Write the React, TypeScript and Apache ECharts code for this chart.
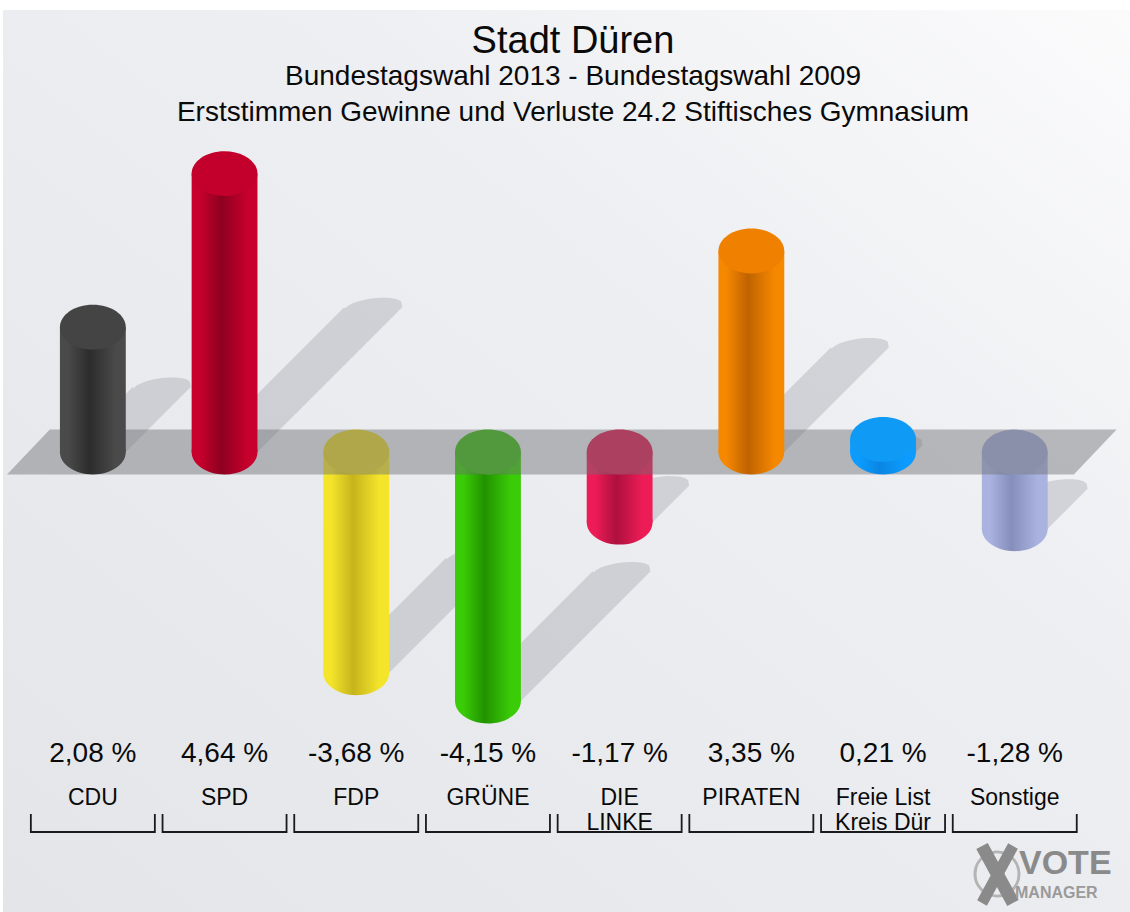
import React, { useEffect, useRef } from "react";
import * as echarts from "echarts";

// ---- data ----
const categories = ["CDU", "SPD", "FDP", "GRÜNE", "DIE\nLINKE", "PIRATEN", "Freie List\nKreis Dür", "Sonstige"];
const values = [2.08, 4.64, -3.68, -4.15, -1.17, 3.35, 0.21, -1.28];
const edgeColors = ["#4a4a4a", "#c8002c", "#f4e42a", "#3acc06", "#ee1c56", "#f68800", "#0c9cff", "#aab3df"];
const midColors = ["#2c2c2c", "#8c0020", "#c6b41c", "#229200", "#ad103f", "#bf6200", "#0a86e2", "#868fbb"];
const topColors = ["#444444", "#c2002b", "#e6d628", "#3cbb10", "#e01a50", "#f08000", "#0f9af6", "#a2abd6"];
const titleText = "Stadt Düren";
const subtitleLines = [
  "Bundestagswahl 2013 - Bundestagswahl 2009",
  "Erststimmen Gewinne und Verluste 24.2 Stiftisches Gymnasium",
];

const FONT = '"Liberation Sans", Arial, sans-serif';

function fmt(v: number) {
  return v.toFixed(2).replace(".", ",") + " %";
}

function geom(api: any) {
  const i = api.value(0);
  const v = api.value(1);
  const p0 = api.coord([i, 0]);
  const p1 = api.coord([i, v]);
  const w = api.size([1, 0])[0] * 0.5;
  return { i, v, p0, p1, w, rx: w / 2, ry: w * 0.34, cx: p0[0] };
}

function cylinderItem(api: any, positive: boolean) {
  const g = geom(api);
  if (positive ? g.v < 0 : g.v >= 0) return null;
  const yTop = Math.min(g.p0[1], g.p1[1]);
  const yLow = Math.max(g.p0[1], g.p1[1]);
  const edge = edgeColors[g.i];
  const mid = midColors[g.i];
  const grad = () =>
    new echarts.graphic.LinearGradient(0, 0, 1, 0, [
      { offset: 0, color: edge },
      { offset: 0.12, color: edge },
      { offset: 0.45, color: mid },
      { offset: 0.85, color: edge },
      { offset: 1, color: edge },
    ]);
  return {
    type: "group",
    children: [
      { type: "ellipse", shape: { cx: g.cx, cy: yLow, rx: g.rx, ry: g.ry }, style: { fill: grad() } },
      { type: "rect", shape: { x: g.cx - g.rx, y: yTop, width: g.w, height: yLow - yTop }, style: { fill: grad() } },
      { type: "ellipse", shape: { cx: g.cx, cy: yTop, rx: g.rx, ry: g.ry }, style: { fill: topColors[g.i] } },
    ],
  };
}

function shadowItem(api: any) {
  const g = geom(api);
  const h = Math.abs(g.p1[1] - g.p0[1]);
  const yLow = Math.max(g.p0[1], g.p1[1]);
  const R = 0.52 * h;
  const sw = 58;
  const xr0 = g.cx + g.rx;
  const yT = yLow - R;
  const xrT = xr0 + R;
  const xlT = xrT - sw;
  const xm = (xlT + xrT) / 2;
  const pts: number[][] = [[xr0 - sw, yLow], [xlT, yT]];
  for (let k = 1; k < 12; k++) {
    const t = Math.PI - (Math.PI * k) / 12;
    pts.push([xm + (sw / 2) * Math.cos(t), yT - 9 * Math.sin(t) - (sw / 2) * Math.cos(t) * 0.12]);
  }
  pts.push([xrT, yT]);
  pts.push([xr0, yLow]);
  return { type: "polygon", shape: { points: pts }, style: { fill: "rgba(150,152,162,0.33)" } };
}

function centeredText(text: string, x: number, y: number, font: string) {
  return {
    type: "text",
    style: { text, x, y, align: "center", verticalAlign: "middle", textAlign: "center", textVerticalAlign: "middle", font, fill: "#0a0a0a" },
  };
}

function labelItem(api: any) {
  const g = geom(api);
  const parts = categories[g.i].split("\n");
  const half = 62;
  const children: any[] = [
    centeredText(fmt(g.v), g.cx, 752, `28px ${FONT}`),
    centeredText(parts[0], g.cx, 797, `23px ${FONT}`),
    {
      type: "polyline",
      shape: { points: [[g.cx - half, 814], [g.cx - half, 832], [g.cx + half, 832], [g.cx + half, 814]] },
      style: { stroke: "#1a1a1a", lineWidth: 1.8, fill: null },
    },
  ];
  if (parts[1]) children.push(centeredText(parts[1], g.cx, 822, `23px ${FONT}`));
  return { type: "group", children };
}

export default function App() {
  const ref = useRef<HTMLDivElement>(null);
  useEffect(() => {
    if (!ref.current) return;
    const chart = echarts.init(ref.current, undefined, { renderer: "svg" });
    const data = values.map((v, i) => [i, v]);
    const txt = (text: string, y: number, size: number) => ({
      ...centeredText(text, 573, y, `${size}px ${FONT}`),
      z: 5,
    });
    chart.setOption({
      animation: false,
      grid: { left: 27, right: 49.4, top: 92, bottom: 100, containLabel: false },
      xAxis: { type: "category", data: categories, show: false },
      yAxis: { type: "value", min: -6, max: 6, show: false },
      graphic: [
        {
          type: "rect",
          z: -10,
          shape: { x: 3, y: 10, width: 1127, height: 902 },
          style: {
            fill: new echarts.graphic.LinearGradient(1, 0, 0, 1, [
              { offset: 0, color: "#fbfbfc" },
              { offset: 0.35, color: "#eeeff2" },
              { offset: 1, color: "#e3e5e9" },
            ]),
          },
        },
        txt(titleText, 40, 38),
        txt(subtitleLines[0], 75, 28),
        txt(subtitleLines[1], 111, 28),
        {
          type: "group",
          z: 5,
          children: [
            { type: "circle", shape: { cx: 997, cy: 874, r: 22 }, style: { fill: null, stroke: "#b4b4b4", lineWidth: 3 } },
            { type: "line", shape: { x1: 982, y1: 846, x2: 1013, y2: 903 }, style: { stroke: "#8a8a8a", lineWidth: 13 } },
            { type: "line", shape: { x1: 1013, y1: 846, x2: 982, y2: 903 }, style: { stroke: "#8a8a8a", lineWidth: 11 } },
            { type: "text", style: { text: "VOTE", x: 1019, y: 862, align: "left", verticalAlign: "middle", textAlign: "left", textVerticalAlign: "middle", font: `bold 34px ${FONT}`, fill: "#8a8a8a" } },
            { type: "text", style: { text: "MANAGER", x: 1015, y: 892, align: "left", verticalAlign: "middle", textAlign: "left", textVerticalAlign: "middle", font: `bold 16px ${FONT}`, fill: "#9a9a9a" } },
          ],
        },
      ],
      series: [
        { type: "custom", z: 1, data, encode: { x: 0, y: 1 }, renderItem: (_p: any, api: any) => shadowItem(api) },
        { type: "custom", z: 2, data, encode: { x: 0, y: 1 }, renderItem: (_p: any, api: any) => cylinderItem(api, false) },
        {
          type: "custom",
          z: 3,
          data: [[0, 0]],
          encode: { x: 0, y: 1 },
          renderItem: (params: any, api: any) => {
            const cs = params.coordSys;
            const y0 = api.coord([0, 0])[1];
            const ry = api.size([1, 0])[0] * 0.5 * 0.34;
            const top = y0 - ry;
            const bot = y0 + ry;
            const s = bot - top - 2;
            const right = cs.x + cs.width + 36;
            return {
              type: "polygon",
              shape: { points: [[cs.x - 20 + s, top], [right, top], [right - s, bot], [cs.x - 20, bot]] },
              style: { fill: "rgba(108,110,116,0.45)" },
            };
          },
        },
        { type: "custom", z: 4, data, encode: { x: 0, y: 1 }, renderItem: (_p: any, api: any) => cylinderItem(api, true) },
        { type: "custom", z: 5, data, encode: { x: 0, y: 1 }, renderItem: (_p: any, api: any) => labelItem(api) },
      ],
    });
    return () => chart.dispose();
  }, []);
  return <div ref={ref} style={{ position: "fixed", left: 0, top: 0, width: 1130, height: 912, background: "#ffffff" }} />;
}
